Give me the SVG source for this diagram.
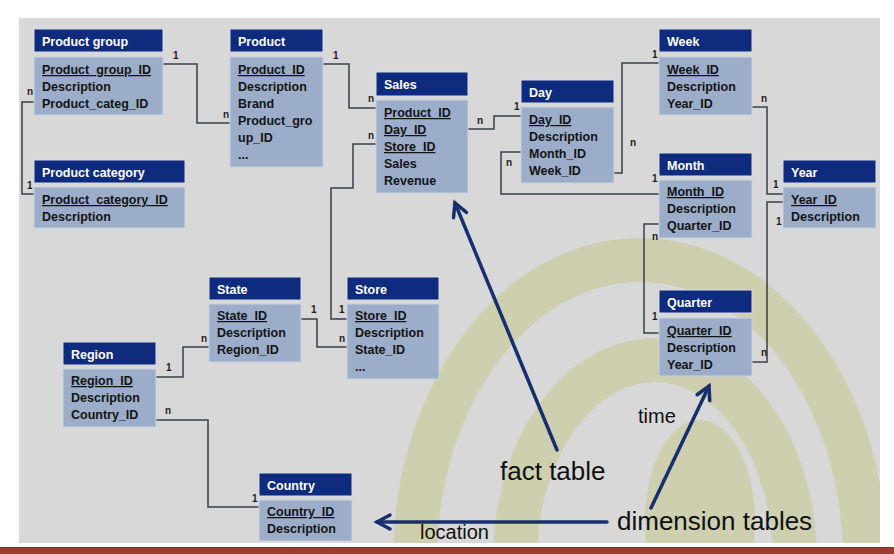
<svg xmlns="http://www.w3.org/2000/svg" width="894" height="554" viewBox="0 0 894 554">
<defs>
<style>
.hd{fill:#0f2b7d;stroke:#d5dae6;stroke-width:1}
.bd{fill:#9badc9;stroke:#c9d2e0;stroke-width:1}
.ht{font-family:"Liberation Sans",Arial,sans-serif;font-weight:bold;font-size:12.5px;fill:#ffffff}
.bt{font-family:"Liberation Sans",Arial,sans-serif;font-weight:bold;font-size:12.5px;fill:#141414}
.k{text-decoration:underline}
.lbl{font-family:"Liberation Sans",Arial,sans-serif;font-weight:bold;font-size:10px;fill:#222}
.conn{fill:none;stroke:#3a3e46;stroke-width:1.5}
.ann{fill:none;stroke:#172f6e;stroke-width:3.5;stroke-linecap:round}
.at{font-family:"Liberation Sans",Arial,sans-serif;font-size:26px;fill:#111}
.as{font-family:"Liberation Sans",Arial,sans-serif;font-size:20px;fill:#111}
.sp{fill:none;stroke:#cdcfae}
</style>
<clipPath id="panel"><rect x="19" y="18" width="861" height="525"/></clipPath>
<marker id="ah" viewBox="-16 -10 20 20" refX="0" refY="0" markerWidth="20" markerHeight="20" markerUnits="userSpaceOnUse" orient="auto">
<path d="M-13,-7 L0,0 L-13,7" fill="none" stroke="#172f6e" stroke-width="3.5" stroke-linecap="round"/>
</marker>
</defs>
<rect x="0" y="0" width="894" height="554" fill="#ffffff"/>
<rect x="19" y="18" width="861" height="525" fill="#d8d8d8"/>
<g clip-path="url(#panel)">
<ellipse class="sp" cx="640" cy="560" rx="225" ry="300" stroke-width="44"/>
<ellipse class="sp" cx="655" cy="560" rx="140" ry="200" stroke-width="44"/>
<ellipse cx="700" cy="520" rx="55" ry="100" fill="#cdcfae"/>
</g>
<rect x="0" y="547" width="894" height="1" fill="#5b3b33"/>
<rect x="0" y="548" width="894" height="6" fill="#a23b2b"/>

<g id="connectors">
<path class="conn" d="M163,64 H197 V123 H230"/>
<path class="conn" d="M34,102 H22 V194 H34"/>
<path class="conn" d="M323,64 H349 V108 H376"/>
<path class="conn" d="M376,144 H353 V188 H331 V319 H347"/>
<path class="conn" d="M468,129 H494 V116 H521"/>
<path class="conn" d="M614,173 H622 V63 H659"/>
<path class="conn" d="M521,152 H501 V194 H659"/>
<path class="conn" d="M752,107 H767 V194 H783"/>
<path class="conn" d="M659,224 H644 V333 H659"/>
<path class="conn" d="M752,362 H767 V202 H783"/>
<path class="conn" d="M301,319 H317 V347 H347"/>
<path class="conn" d="M156,377 H183 V347 H209"/>
<path class="conn" d="M156,420 H208 V507 H259"/>
<text class="lbl" x="173" y="59">1</text>
<text class="lbl" x="223" y="118">n</text>
<text class="lbl" x="27" y="95">n</text>
<text class="lbl" x="27" y="189">1</text>
<text class="lbl" x="333" y="59">1</text>
<text class="lbl" x="368" y="102">n</text>
<text class="lbl" x="368" y="139">n</text>
<text class="lbl" x="339" y="313">1</text>
<text class="lbl" x="477" y="124">n</text>
<text class="lbl" x="514" y="110">1</text>
<text class="lbl" x="630" y="146">n</text>
<text class="lbl" x="652" y="58">1</text>
<text class="lbl" x="506" y="166">n</text>
<text class="lbl" x="652" y="182">1</text>
<text class="lbl" x="761" y="102">n</text>
<text class="lbl" x="773" y="188">1</text>
<text class="lbl" x="652" y="240">n</text>
<text class="lbl" x="652" y="320">1</text>
<text class="lbl" x="761" y="356">n</text>
<text class="lbl" x="776" y="225">1</text>
<text class="lbl" x="311" y="313">1</text>
<text class="lbl" x="339" y="342">n</text>
<text class="lbl" x="166" y="371">1</text>
<text class="lbl" x="201" y="342">n</text>
<text class="lbl" x="165" y="414">n</text>
<text class="lbl" x="252" y="502">1</text>
</g>

<g id="product_group">
<rect class="hd" x="34" y="29" width="129" height="23"/>
<text class="ht" x="42" y="46">Product group</text>
<rect class="bd" x="34" y="57" width="129" height="58"/>
<text class="bt k" x="42" y="74">Product_group_ID</text>
<text class="bt" x="42" y="91">Description</text>
<text class="bt" x="42" y="108">Product_categ_ID</text>
</g>
<g id="product">
<rect class="hd" x="230" y="29" width="93" height="23"/>
<text class="ht" x="238" y="46">Product</text>
<rect class="bd" x="230" y="57" width="93" height="110"/>
<text class="bt k" x="238" y="74">Product_ID</text>
<text class="bt" x="238" y="91">Description</text>
<text class="bt" x="238" y="108">Brand</text>
<text class="bt" x="238" y="125">Product_gro</text>
<text class="bt" x="238" y="142">up_ID</text>
<text class="bt" x="238" y="159">...</text>
</g>
<g id="product_category">
<rect class="hd" x="34" y="160" width="151" height="23"/>
<text class="ht" x="42" y="177">Product category</text>
<rect class="bd" x="34" y="187" width="151" height="41"/>
<text class="bt k" x="42" y="204">Product_category_ID</text>
<text class="bt" x="42" y="221">Description</text>
</g>
<g id="sales">
<rect class="hd" x="376" y="72" width="92" height="24"/>
<text class="ht" x="384" y="89">Sales</text>
<rect class="bd" x="376" y="100" width="92" height="93"/>
<text class="bt k" x="384" y="117">Product_ID</text>
<text class="bt k" x="384" y="134">Day_ID</text>
<text class="bt k" x="384" y="151">Store_ID</text>
<text class="bt" x="384" y="168">Sales</text>
<text class="bt" x="384" y="185">Revenue</text>
</g>
<g id="day">
<rect class="hd" x="521" y="80" width="93" height="23"/>
<text class="ht" x="529" y="97">Day</text>
<rect class="bd" x="521" y="107" width="93" height="76"/>
<text class="bt k" x="529" y="124">Day_ID</text>
<text class="bt" x="529" y="141">Description</text>
<text class="bt" x="529" y="158">Month_ID</text>
<text class="bt" x="529" y="175">Week_ID</text>
</g>
<g id="week">
<rect class="hd" x="659" y="29" width="93" height="23"/>
<text class="ht" x="667" y="46">Week</text>
<rect class="bd" x="659" y="57" width="93" height="58"/>
<text class="bt k" x="667" y="74">Week_ID</text>
<text class="bt" x="667" y="91">Description</text>
<text class="bt" x="667" y="108">Year_ID</text>
</g>
<g id="month">
<rect class="hd" x="659" y="153" width="93" height="23"/>
<text class="ht" x="667" y="170">Month</text>
<rect class="bd" x="659" y="180" width="93" height="58"/>
<text class="bt k" x="667" y="196">Month_ID</text>
<text class="bt" x="667" y="213">Description</text>
<text class="bt" x="667" y="230">Quarter_ID</text>
</g>
<g id="year">
<rect class="hd" x="783" y="160" width="93" height="23"/>
<text class="ht" x="791" y="177">Year</text>
<rect class="bd" x="783" y="187" width="93" height="41"/>
<text class="bt k" x="791" y="204">Year_ID</text>
<text class="bt" x="791" y="221">Description</text>
</g>
<g id="quarter">
<rect class="hd" x="659" y="290" width="93" height="23"/>
<text class="ht" x="667" y="307">Quarter</text>
<rect class="bd" x="659" y="318" width="93" height="58"/>
<text class="bt k" x="667" y="335">Quarter_ID</text>
<text class="bt" x="667" y="352">Description</text>
<text class="bt" x="667" y="369">Year_ID</text>
</g>
<g id="state">
<rect class="hd" x="209" y="277" width="92" height="23"/>
<text class="ht" x="217" y="294">State</text>
<rect class="bd" x="209" y="304" width="92" height="58"/>
<text class="bt k" x="217" y="320">State_ID</text>
<text class="bt" x="217" y="337">Description</text>
<text class="bt" x="217" y="354">Region_ID</text>
</g>
<g id="store">
<rect class="hd" x="347" y="277" width="92" height="23"/>
<text class="ht" x="355" y="294">Store</text>
<rect class="bd" x="347" y="304" width="92" height="75"/>
<text class="bt k" x="355" y="320">Store_ID</text>
<text class="bt" x="355" y="337">Description</text>
<text class="bt" x="355" y="354">State_ID</text>
<text class="bt" x="355" y="371">...</text>
</g>
<g id="region">
<rect class="hd" x="63" y="342" width="93" height="23"/>
<text class="ht" x="71" y="359">Region</text>
<rect class="bd" x="63" y="369" width="93" height="58"/>
<text class="bt k" x="71" y="385">Region_ID</text>
<text class="bt" x="71" y="402">Description</text>
<text class="bt" x="71" y="419">Country_ID</text>
</g>
<g id="country">
<rect class="hd" x="259" y="473" width="93" height="23"/>
<text class="ht" x="267" y="490">Country</text>
<rect class="bd" x="259" y="500" width="93" height="41"/>
<text class="bt k" x="267" y="516">Country_ID</text>
<text class="bt" x="267" y="533">Description</text>
</g>

<g id="annotations">
<line class="ann" x1="557" y1="450" x2="455" y2="203" marker-end="url(#ah)"/>
<line class="ann" x1="651" y1="508" x2="709" y2="386" marker-end="url(#ah)"/>
<line class="ann" x1="607" y1="522" x2="377" y2="522" marker-end="url(#ah)"/>
<text class="at" x="500" y="480">fact table</text>
<text class="at" x="617" y="530">dimension tables</text>
<text class="as" x="638" y="423">time</text>
<text class="as" x="420" y="539">location</text>
</g>
</svg>
